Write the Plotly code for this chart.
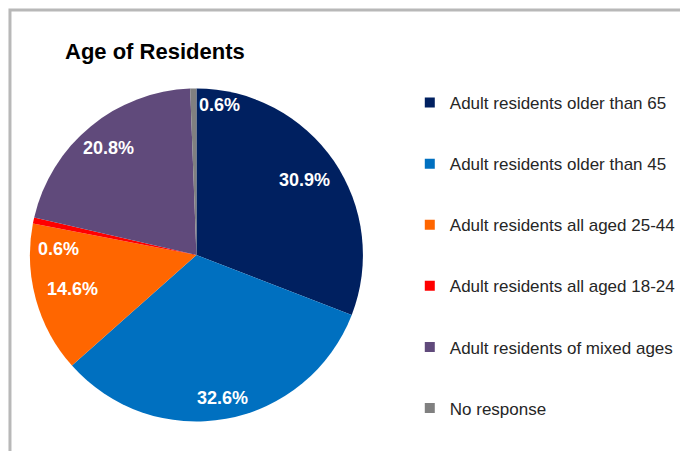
import math
import plotly.graph_objects as go

labels = ["Adult residents older than 65", "Adult residents older than 45",
          "Adult residents all aged 25-44", "Adult residents all aged 18-24",
          "Adult residents of mixed ages", "No response"]
values = [30.9, 32.6, 14.6, 0.6, 20.8, 0.6]
colors = ["#002060", "#0070C0", "#FF6600", "#FF0000", "#604A7B", "#808080"]
title_text = "Age of Residents"

# label placement style (fraction of radius, pixel nudges)
label_r = [0.79, 0.87, 0.77, 0.82, 0.83, 0.9]
label_dx = [0, 0, 0, -4, 0, 26]
label_dy = [0, 0, 0, 22, 0, 0]

W, H = 680, 451
FONT = "Liberation Sans"
CX, CY, R = 197, 255, 167  # pie centre / radius in pixels

fig = go.Figure()
fig.add_trace(go.Pie(
    labels=labels, values=values, sort=False, direction="clockwise", rotation=0,
    marker=dict(colors=colors, line=dict(width=0)),
    textinfo="none", showlegend=False, hoverinfo="label+percent",
    domain=dict(x=[(CX - R) / W, (CX + R) / W], y=[(H - CY - R) / H, (H - CY + R) / H]),
))
for i, (lab, col) in enumerate(zip(labels, colors)):
    fig.add_trace(go.Scatter(
        x=[None], y=[None], mode="markers", name=lab, legendgroup=f"g{i}",
        marker=dict(symbol="square", size=10, color=col),
    ))

total = sum(values)
annotations = []
cum = 0.0
for i, v in enumerate(values):
    mid = (cum + v / 2) / total * 2 * math.pi
    cum += v
    px = CX + label_r[i] * R * math.sin(mid) + label_dx[i]
    py = CY - label_r[i] * R * math.cos(mid) + label_dy[i]
    annotations.append(dict(
        x=px / W, y=1 - py / H, xref="paper", yref="paper", showarrow=False,
        text=f"<b>{v:.1f}%</b>", xanchor="center", yanchor="middle",
        font=dict(family=FONT, size=18, color="white"),
    ))

fig.update_layout(
    width=W, height=H, margin=dict(l=0, r=0, t=0, b=0),
    paper_bgcolor="white", plot_bgcolor="white",
    xaxis=dict(visible=False), yaxis=dict(visible=False),
    title=dict(text=f"<b>{title_text}</b>", x=65 / W, xanchor="left", xref="container",
               y=1 - 51 / H, yanchor="middle", yref="container",
               font=dict(family=FONT, size=22, color="black")),
    legend=dict(x=411 / W, xanchor="left", y=1 - 85 / H, yanchor="top",
                tracegroupgap=36, font=dict(family=FONT, size=17, color="#262626"),
                bgcolor="rgba(0,0,0,0)"),
    annotations=annotations,
    shapes=[dict(type="rect", xref="paper", yref="paper",
                 x0=10 / W, x1=1.2, y0=-0.2, y1=1 - 10 / H,
                 line=dict(color="#B8B8B8", width=3), fillcolor="rgba(0,0,0,0)", layer="below")],
)
fig.write_html("out.html")
